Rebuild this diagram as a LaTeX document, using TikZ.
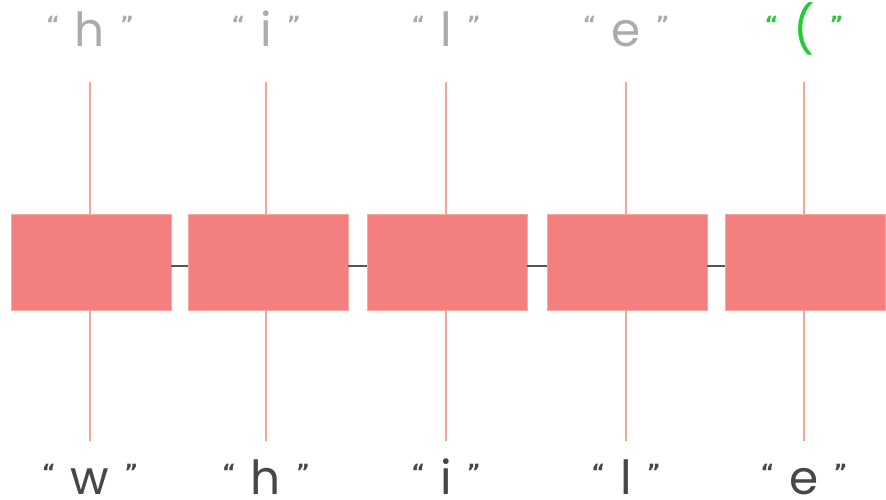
\documentclass[tikz,border=0pt]{standalone}
\usepackage{fontspec}
\setmainfont{Poppins}
\newfontfamily\qfam{DejaVu Sans}
\definecolor{boxfill}{HTML}{F47F7F}
\definecolor{boxline}{HTML}{F8A8A0}
\definecolor{stem}{HTML}{F5A595}
\definecolor{link}{HTML}{555555}
\definecolor{topgray}{HTML}{ABABAB}
\definecolor{botgray}{HTML}{474747}
\definecolor{hot}{HTML}{22CC33}
\newcommand\qmfont{\qfam\bfseries\fontsize{21}{21}\selectfont}
\newcommand\lbl[1]{\raisebox{15pt}{\qmfont “}\hspace{15pt}{\fontsize{47}{47}\selectfont #1}\hspace{15pt}\raisebox{15pt}{\qmfont ”}}
\tikzset{
  cell/.style={draw=boxline, line width=0.8pt, fill=boxfill, minimum width=160pt, minimum height=96pt, inner sep=0pt},
  stemline/.style={draw=stem, line width=1.2pt},
  linkline/.style={draw=link, line width=2pt},
  toplbl/.style={anchor=base, inner sep=0pt, text=topgray},
  botlbl/.style={anchor=base, inner sep=0pt, text=botgray}
}
\begin{document}
\begin{tikzpicture}[x=1pt,y=-1pt]
\useasboundingbox (0,0) rectangle (886,500);
% boxes
\node[cell] (b1) at (91,262) {};
\node[cell] (b2) at (268,262) {};
\node[cell] (b3) at (447,262) {};
\node[cell] (b4) at (627,262) {};
\node[cell] (b5) at (805,262) {};
% links
\draw[linkline] (b1.east |- 0,266) -- (b2.west |- 0,266);
\draw[linkline] (b2.east |- 0,266) -- (b3.west |- 0,266);
\draw[linkline] (b3.east |- 0,266) -- (b4.west |- 0,266);
\draw[linkline] (b4.east |- 0,266) -- (b5.west |- 0,266);
% stems
\foreach \i/\x in {1/90,2/266,3/446,4/626,5/804}{
  \coordinate (tp\i) at (\x,82);
  \coordinate (bp\i) at (\x,441);
  \draw[stemline] (tp\i) -- (tp\i |- b\i.north);
  \draw[stemline] (bp\i |- b\i.south) -- (bp\i);
}
% top labels
\node[toplbl] (t1) at (90,47) {\lbl{h}};
\node[toplbl] (t2) at (266,47) {\lbl{i}};
\node[toplbl] (t3) at (446,47) {\lbl{l}};
\node[toplbl] (t4) at (626,47) {\lbl{e}};
\node[toplbl, text=hot] (t5) at (804,47) {\lbl{(}};
% bottom labels
\node[botlbl] (w1) at (90,494) {\lbl{w}};
\node[botlbl] (w2) at (266,494) {\lbl{h}};
\node[botlbl] (w3) at (446,494) {\lbl{i}};
\node[botlbl] (w4) at (626,494) {\lbl{l}};
\node[botlbl] (w5) at (804,494) {\lbl{e}};
\end{tikzpicture}
\end{document}
